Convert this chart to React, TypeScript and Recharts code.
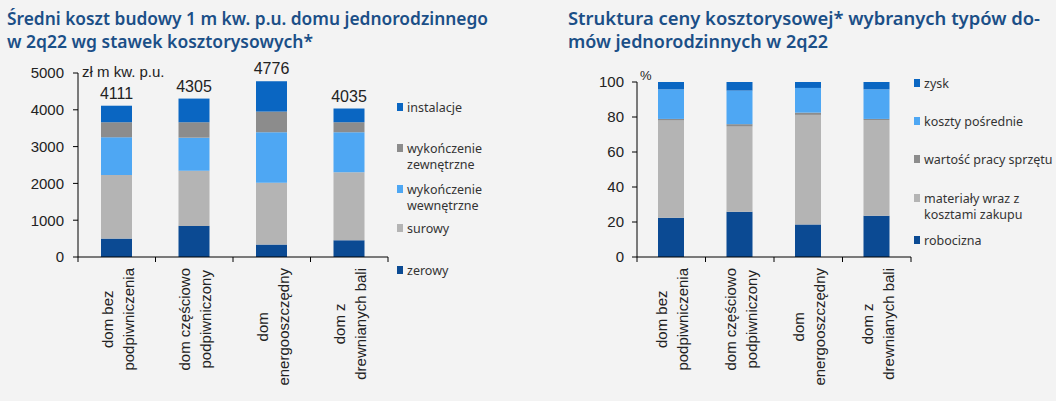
import React from 'react';
import { BarChart, Bar, XAxis, YAxis, LabelList } from 'recharts';

// ---- data ----
const CATEGORIES = [
  'dom bez podpiwniczenia',
  'dom częściowo podpiwniczony',
  'dom energooszczędny',
  'dom z drewnianych bali'
];
const CATEGORY_LINES = [
  ['dom bez', 'podpiwniczenia'],
  ['dom częściowo', 'podpiwniczony'],
  ['dom', 'energooszczędny'],
  ['dom z', 'drewnianych bali']
];

// left chart: zł per m2
const TOTALS = [4111, 4305, 4776, 4035];
const ZEROWY = [500, 845, 338, 455];
const SUROWY = [1726, 1498, 1678, 1845];
const WEWNETRZNE = [1027, 900, 1374, 1090];
const ZEWNETRZNE = [409, 419, 561, 272];
const INSTALACJE = [449, 643, 825, 373];
const COST_TICKS = [0, 1000, 2000, 3000, 4000, 5000];

// right chart: % structure
const ROBOCIZNA = [22.4, 25.8, 18.6, 23.6];
const MATERIALY = [55.6, 48.7, 62.6, 54.7];
const SPRZET = [0.9, 1.4, 1.3, 0.6];
const POSREDNIE = [16.9, 19.2, 14.1, 16.9];
const ZYSK = [4.2, 4.9, 3.4, 4.2];
const PCT_TICKS = [0, 20, 40, 60, 80, 100];

// ---- styles ----
const BG = '#f3f3f3';
const TITLE_COLOR = '#1b4f87';
const DARK_BLUE = '#0b4a93';
const LIGHT_GRAY = '#b4b4b4';
const LIGHT_BLUE = '#4ea7f3';
const MID_GRAY = '#8c8c8c';
const BLUE = '#0a66c2';
const AXIS_FONT = "'Liberation Sans', Arial, sans-serif";
const ROUND_FONT = "'Noto Sans', sans-serif";

const costData = CATEGORIES.map((name, i) => ({
  name,
  zerowy: ZEROWY[i],
  surowy: SUROWY[i],
  wewnetrzne: WEWNETRZNE[i],
  zewnetrzne: ZEWNETRZNE[i],
  instalacje: INSTALACJE[i],
  total: TOTALS[i]
}));

const pctData = CATEGORIES.map((name, i) => ({
  name,
  robocizna: ROBOCIZNA[i],
  materialy: MATERIALY[i],
  sprzet: SPRZET[i],
  posrednie: POSREDNIE[i],
  zysk: ZYSK[i]
}));

let ctx: CanvasRenderingContext2D | null = null;
const measure = (s: string, font: string) => {
  if (!ctx) ctx = document.createElement('canvas').getContext('2d');
  if (!ctx) return s.length * 8;
  ctx.font = font;
  return ctx.measureText(s).width;
};

const makeTick = (band: number) => (props: any) => {
  const { x, y, index } = props;
  const lines = CATEGORY_LINES[index] || [];
  const maxW = Math.max(...lines.map((l) => measure(l, `15px ${AXIS_FONT}`)));
  const last = index === CATEGORY_LINES.length - 1;
  return (
    <g>
      <line x1={x - band / 2} x2={x - band / 2} y1={y} y2={y + 5} stroke="#000" />
      {last && <line x1={x + band / 2} x2={x + band / 2} y1={y} y2={y + 5} stroke="#000" />}
      {lines.map((ln, i) => (
        <text
          key={i}
          transform={`translate(${x + (i - (lines.length - 1) / 2) * 21 + 1}, ${y + 11 + maxW / 2}) rotate(-90)`}
          textAnchor="middle"
          dominantBaseline="central"
          fontSize={15}
          fontFamily={AXIS_FONT}
          fill="#222"
        >
          {ln}
        </text>
      ))}
    </g>
  );
};

const yTickStyle = { fontSize: 15, fontFamily: AXIS_FONT, fill: '#222' };

const LEFT_LEGEND = [
  { lines: ['instalacje'], color: BLUE, y: 107 },
  { lines: ['wykończenie', 'zewnętrzne'], color: MID_GRAY, y: 148 },
  { lines: ['wykończenie', 'wewnętrzne'], color: LIGHT_BLUE, y: 189 },
  { lines: ['surowy'], color: LIGHT_GRAY, y: 228 },
  { lines: ['zerowy'], color: DARK_BLUE, y: 270 }
];
const RIGHT_LEGEND = [
  { lines: ['zysk'], color: BLUE, y: 83 },
  { lines: ['koszty pośrednie'], color: LIGHT_BLUE, y: 121 },
  { lines: ['wartość pracy sprzętu'], color: MID_GRAY, y: 159 },
  { lines: ['materiały wraz z', 'kosztami zakupu'], color: LIGHT_GRAY, y: 198 },
  { lines: ['robocizna'], color: DARK_BLUE, y: 240 }
];

const LegendBlock = ({ items, x }: { items: typeof LEFT_LEGEND; x: number }) => (
  <g>
    {items.map((it, i) => (
      <g key={i}>
        <rect x={x} y={it.y - 4} width={6} height={8} fill={it.color} />
        {it.lines.map((ln, j) => (
          <text
            key={j}
            x={x + 10}
            y={it.y + j * 16}
            dominantBaseline="central"
            fontSize={12.5}
            fontFamily={ROUND_FONT}
            fill="#333"
          >
            {ln}
          </text>
        ))}
      </g>
    ))}
  </g>
);

const Title = ({ x, lines, widths }: { x: number; lines: string[]; widths: number[] }) => (
  <g>
    {lines.map((ln, i) => (
      <text
        key={i}
        x={x}
        y={25 + i * 23}
        fontSize={18}
        fontWeight={600}
        fontFamily={ROUND_FONT}
        fill={TITLE_COLOR}
        textLength={widths[i]}
        lengthAdjust="spacingAndGlyphs"
      >
        {ln}
      </text>
    ))}
  </g>
);

export default function App() {
  const leftBand = (388 - 78) / 4;
  const rightBand = (911 - 637) / 4;
  return (
    <div style={{ position: 'absolute', left: 0, top: 0, width: 1056, height: 401, background: BG }}>
      <div style={{ position: 'absolute', left: 0, top: 0 }}>
        <BarChart
          width={560}
          height={401}
          data={costData}
          margin={{ top: 73, right: 172, bottom: 4, left: 0 }}
        >
          <YAxis
            width={78}
            domain={[0, 5000]}
            ticks={COST_TICKS}
            interval={0}
            tick={yTickStyle}
            tickSize={5}
            tickMargin={9}
            stroke="#000"
            axisLine={{ stroke: '#000' }}
          />
          <XAxis
            dataKey="name"
            height={140}
            interval={0}
            tickLine={false}
            tickSize={0}
            tickMargin={0}
            tick={makeTick(leftBand)}
            axisLine={{ stroke: '#000' }}
          />
          <Bar dataKey="zerowy" stackId="a" fill={DARK_BLUE} barSize={31} isAnimationActive={false} />
          <Bar dataKey="surowy" stackId="a" fill={LIGHT_GRAY} barSize={31} isAnimationActive={false} />
          <Bar dataKey="wewnetrzne" stackId="a" fill={LIGHT_BLUE} barSize={31} isAnimationActive={false} />
          <Bar dataKey="zewnetrzne" stackId="a" fill={MID_GRAY} barSize={31} isAnimationActive={false} />
          <Bar dataKey="instalacje" stackId="a" fill={BLUE} barSize={31} isAnimationActive={false}>
            <LabelList
              dataKey="total"
              position="top"
              offset={7}
              style={{ fontSize: 16, fontFamily: AXIS_FONT, fill: '#222' }}
            />
          </Bar>
        </BarChart>
      </div>
      <div style={{ position: 'absolute', left: 560, top: 0 }}>
        <BarChart
          width={496}
          height={401}
          data={pctData}
          margin={{ top: 82, right: 145, bottom: 4, left: 0 }}
        >
          <YAxis
            width={77}
            domain={[0, 100]}
            ticks={PCT_TICKS}
            interval={0}
            tick={yTickStyle}
            tickSize={5}
            tickMargin={8}
            stroke="#000"
            axisLine={{ stroke: '#000' }}
          />
          <XAxis
            dataKey="name"
            height={140}
            interval={0}
            tickLine={false}
            tickSize={0}
            tickMargin={0}
            tick={makeTick(rightBand)}
            axisLine={{ stroke: '#000' }}
          />
          <Bar dataKey="robocizna" stackId="p" fill={DARK_BLUE} barSize={26} isAnimationActive={false} />
          <Bar dataKey="materialy" stackId="p" fill={LIGHT_GRAY} barSize={26} isAnimationActive={false} />
          <Bar dataKey="sprzet" stackId="p" fill={MID_GRAY} barSize={26} isAnimationActive={false} />
          <Bar dataKey="posrednie" stackId="p" fill={LIGHT_BLUE} barSize={26} isAnimationActive={false} />
          <Bar dataKey="zysk" stackId="p" fill={BLUE} barSize={26} isAnimationActive={false} />
        </BarChart>
      </div>
      <svg
        width={1056}
        height={401}
        style={{ position: 'absolute', left: 0, top: 0, pointerEvents: 'none' }}
      >
        <Title
          x={7}
          lines={['Średni koszt budowy 1 m kw. p.u. domu jednorodzinnego', 'w 2q22 wg stawek kosztorysowych*']}
          widths={[481, 306]}
        />
        <Title
          x={568}
          lines={['Struktura ceny kosztorysowej* wybranych typów do-', 'mów jednorodzinnych w 2q22']}
          widths={[472, 260]}
        />
        <text x={82} y={77} fontSize={15} fontFamily={AXIS_FONT} fill="#222">
          zł m kw. p.u.
        </text>
        <text x={640} y={80} fontSize={13} fontFamily={AXIS_FONT} fill="#222">
          %
        </text>
        <LegendBlock items={LEFT_LEGEND} x={397} />
        <LegendBlock items={RIGHT_LEGEND} x={914} />
      </svg>
    </div>
  );
}
